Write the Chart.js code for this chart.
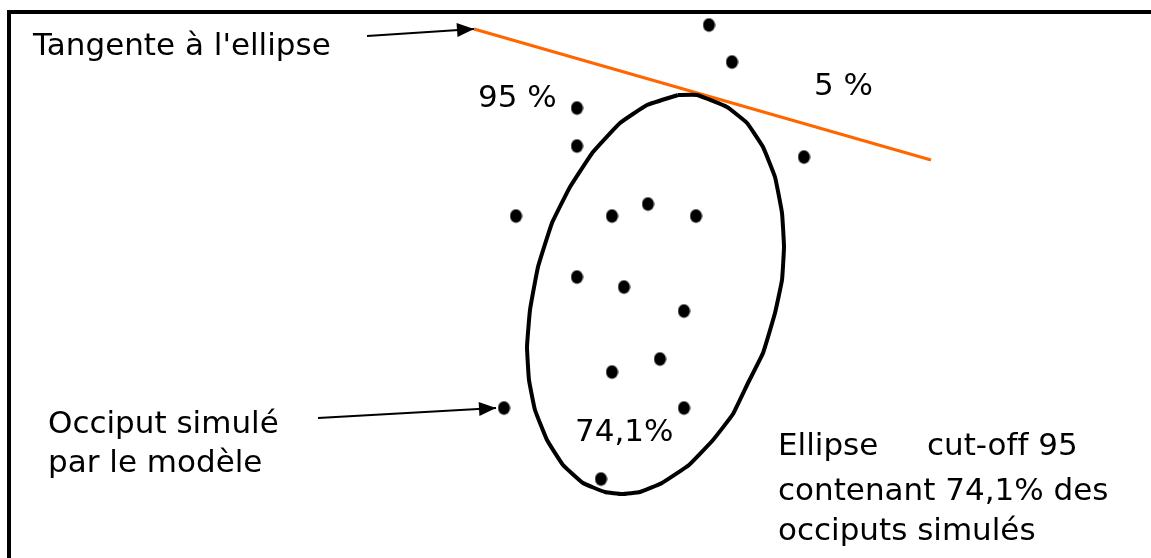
<!DOCTYPE html>
<html>
<head>
<meta charset="utf-8">
<script src="https://cdn.jsdelivr.net/npm/chart.js@4.4.1/dist/chart.umd.min.js"></script>
<style>
  html, body { margin: 0; padding: 0; background: #fff; overflow: hidden; }
  #wrap { position: relative; width: 1151px; height: 558px; }
  #frame { position: absolute; left: 7px; top: 10px; width: 1300px; height: 700px; border: 4px solid #000; }
  #ellipseChart { position: absolute; left: 0; top: 0; }
</style>
</head>
<body>
<div id="wrap">
  <div id="frame"></div>
  <canvas id="ellipseChart" width="1151" height="558"></canvas>
</div>
<script>
// simulated occiputs (x, y)
const occiputX = [70.9, 73.2, 57.7, 57.7, 80.4, 51.6, 61.2, 64.8, 69.6, 57.7, 62.4, 68.4, 66.0, 61.2, 50.4, 68.4, 60.1];
const occiputY = [53.3, 49.6, 45.0, 41.2, 40.1, 34.2, 34.2, 35.4, 34.2, 28.1, 27.1, 24.7, 19.9, 18.6, 15.0, 15.0, 7.9];

// cut-off 95 ellipse outline, read around the curve
const ellipseX = [67.8, 69.7, 72.7, 74.7, 76.3, 77.5, 78.2, 78.4, 78.2, 77.5, 76.3, 74.8, 73.3, 71.3, 68.9, 66.2, 64.0, 62.2,
                  60.5, 58.3, 56.3, 54.7, 53.5, 52.9, 52.7, 53.0, 53.8, 55.2, 57.0, 59.3, 62.0, 64.7, 67.8];
const ellipseY = [46.3, 46.3, 45.1, 43.5, 41.1, 38.1, 34.5, 31.1, 27.8, 24.5, 20.5, 17.5, 14.4, 11.8, 9.3, 7.5, 6.6, 6.4,
                  6.6, 7.5, 9.3, 11.8, 14.8, 17.8, 21.1, 24.8, 29.1, 33.5, 37.1, 40.6, 43.5, 45.3, 46.3];

// tangent to the ellipse
const tangentX = [47.4, 93.1];
const tangentY = [52.9, 39.8];

// arrows from the notes
const arrowTopX = [36.7, 47.4];
const arrowTopY = [52.2, 52.9];
const arrowLowX = [31.8, 49.6];
const arrowLowY = [14.0, 15.0];

// notes
const noteTexts = ["Tangente à l'ellipse", '95 %', '5 %', 'Occiput simulé', 'par le modèle', '74,1%',
                   'Ellipse', 'cut-of\u200Cf 95', 'contenant 74,1% des', 'occiputs simulés'];
const noteX = [3.3, 47.8, 81.4, 4.8, 4.8, 57.5, 77.8, 92.7, 77.8, 77.8];
const noteY = [50.3, 45.1, 46.3, 12.5, 8.6, 11.7, 10.3, 10.3, 5.8, 1.8];

function toPoints(xs, ys) {
    return xs.map((x, i) => ({ x: x, y: ys[i] }));
}

// slightly tall dot, like the original markers
function dotStyle() {
    const c = document.createElement('canvas');
    c.width = 13;
    c.height = 15;
    const g = c.getContext('2d');
    g.fillStyle = '#000';
    g.beginPath();
    g.ellipse(6.5, 7.5, 6, 6.8, 0, 0, Math.PI * 2);
    g.fill();
    return c;
}

const arrowHeads = {
    id: 'arrowHeads',
    afterDatasetsDraw(chart) {
        const ctx = chart.ctx;
        chart.data.datasets.forEach((ds, i) => {
            if (!ds.arrow) return;
            const pts = chart.getDatasetMeta(i).data;
            const a = pts[pts.length - 2], b = pts[pts.length - 1];
            const ang = Math.atan2(b.y - a.y, b.x - a.x);
            ctx.save();
            ctx.translate(b.x, b.y);
            ctx.rotate(ang);
            ctx.beginPath();
            ctx.moveTo(0, 0);
            ctx.lineTo(-17, -7);
            ctx.lineTo(-17, 7);
            ctx.closePath();
            ctx.fillStyle = ds.borderColor;
            ctx.fill();
            ctx.restore();
        });
    }
};

const notes = {
    id: 'notes',
    afterDraw(chart) {
        const { ctx, scales: { x, y } } = chart;
        ctx.save();
        ctx.font = '31px "DejaVu Sans"';
        ctx.fillStyle = '#000';
        ctx.textBaseline = 'alphabetic';
        noteTexts.forEach((t, i) => {
            ctx.fillText(t, x.getPixelForValue(noteX[i]), y.getPixelForValue(noteY[i]));
        });
        ctx.restore();
    }
};

const lineSet = (xs, ys, color, width, extra) => Object.assign({
    type: 'scatter',
    data: toPoints(xs, ys),
    showLine: true,
    borderColor: color,
    borderWidth: width,
    pointRadius: 0,
    fill: false,
    clip: false
}, extra || {});

new Chart(document.getElementById('ellipseChart'), {
    type: 'scatter',
    data: {
        datasets: [
            lineSet(ellipseX, ellipseY, '#000', 4, { tension: 0.1, borderJoinStyle: 'round' }),
            lineSet(tangentX, tangentY, '#ff6600', 3),
            lineSet(arrowTopX, arrowTopY, '#000', 2, { arrow: true }),
            lineSet(arrowLowX, arrowLowY, '#000', 2, { arrow: true }),
            {
                data: toPoints(occiputX, occiputY),
                pointStyle: dotStyle(),
                pointRadius: 6,
                clip: false
            }
        ]
    },
    options: {
        responsive: false,
        animation: false,
        devicePixelRatio: 1,
        layout: { padding: 0, autoPadding: false },
        plugins: { legend: { display: false }, tooltip: { enabled: false } },
        scales: {
            x: { type: 'linear', min: 0, max: 115.1, display: false },
            y: { type: 'linear', min: 0, max: 55.8, display: false }
        }
    },
    plugins: [arrowHeads, notes]
});
</script>
</body>
</html>
